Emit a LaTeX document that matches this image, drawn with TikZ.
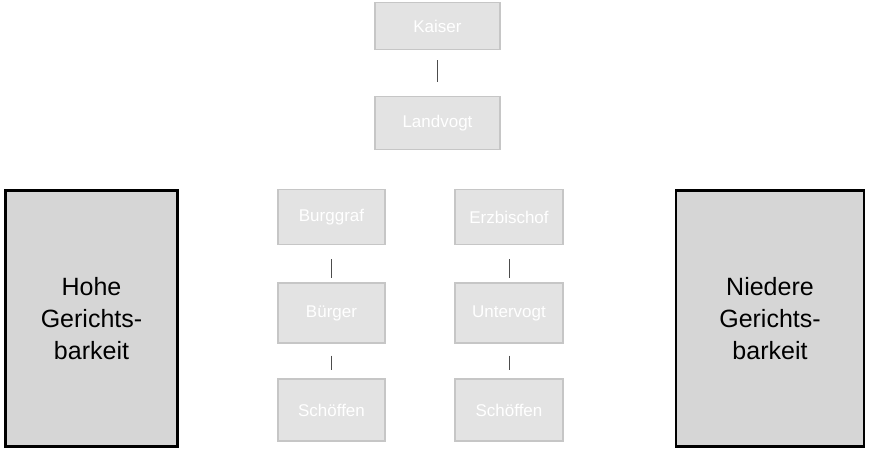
\documentclass[tikz,border=0pt]{standalone}
\usepackage{fontspec}
\setmainfont{Liberation Sans}
\begin{document}
\begin{tikzpicture}[x=1pt,y=-1pt,
  small/.style={draw=gray!45,line width=1.2pt,fill=gray!22,text=white,font=\fontsize{17}{19}\selectfont,inner sep=0pt},
  big/.style={draw=black,line width=2.5pt,fill=gray!32,text=black,font=\fontsize{25}{32}\selectfont,align=center,inner sep=0pt},
  link/.style={draw=gray!60!black,line width=0.8pt}]
\useasboundingbox (0,0) rectangle (871,451);
\node[small,minimum width=125pt,minimum height=47pt] (kaiser) at (437.5,26) {Kaiser};
\node[small,minimum width=125pt,minimum height=53pt] (vogt) at (437.5,123) {Landvogt};
\node[small,minimum width=107pt,minimum height=55pt] (l1) at (331.5,217) {Burggraf};
\node[small,minimum width=107pt,minimum height=60pt] (l2) at (331.5,313) {Bürger};
\node[small,minimum width=107pt,minimum height=62pt] (l3) at (331.5,410) {Schöffen};
\node[small,minimum width=108pt,minimum height=55pt] (r1) at (509,217) {Erzbischof};
\node[small,minimum width=108pt,minimum height=60pt] (r2) at (509,313) {Untervogt};
\node[small,minimum width=108pt,minimum height=62pt] (r3) at (509,410) {Schöffen};
\node[big,minimum width=172pt,minimum height=256pt] (hohe) at (91.5,318.5) {Hohe\\Gerichts-\\barkeit};
\node[big,minimum width=188pt,minimum height=256pt] (niedere) at (770,318.5) {Niedere\\Gerichts-\\barkeit};
\draw[link,shorten <=10pt,shorten >=14pt] (kaiser) -- (vogt);
\draw[link,shorten <=14pt,shorten >=4pt] (l1) -- (l2);
\draw[link,shorten <=12pt,shorten >=8pt] (l2) -- (l3);
\draw[link,shorten <=14pt,shorten >=4pt] (r1) -- (r2);
\draw[link,shorten <=12pt,shorten >=8pt] (r2) -- (r3);
\end{tikzpicture}
\end{document}
